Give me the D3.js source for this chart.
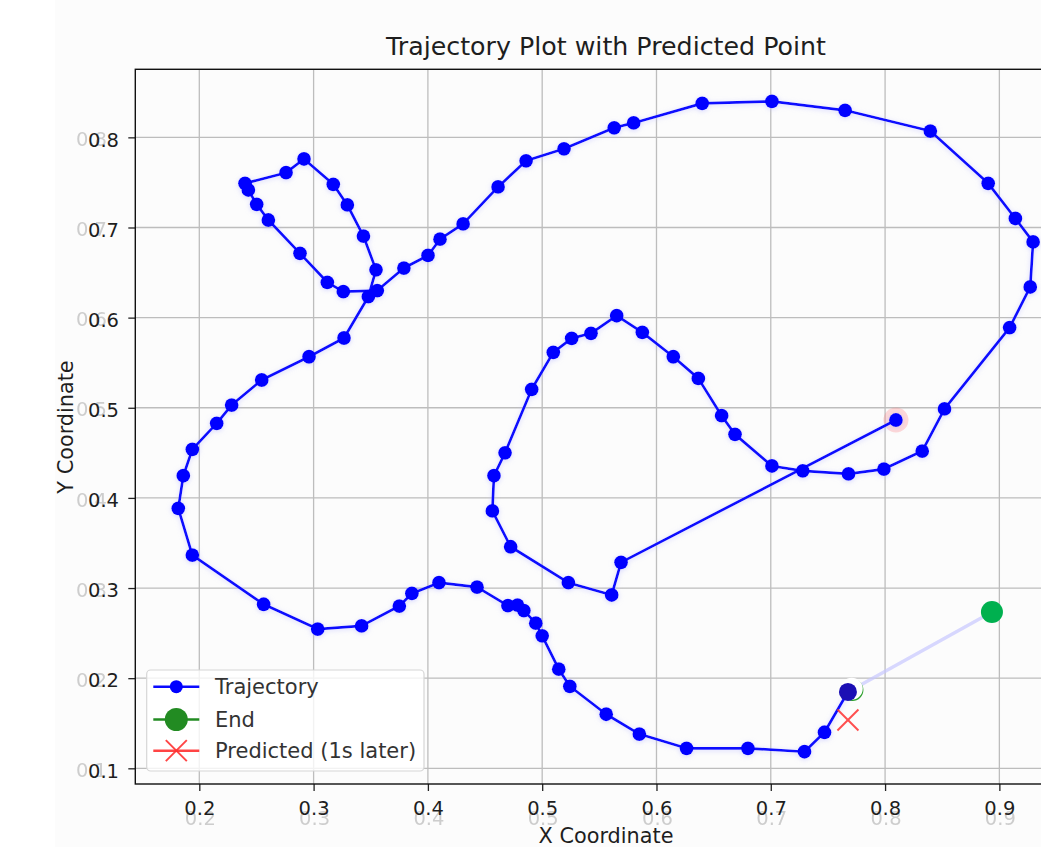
<!DOCTYPE html>
<html>
<head>
<meta charset="utf-8">
<script src="https://cdn.jsdelivr.net/npm/d3@7"></script>
<style>
  html, body { margin: 0; padding: 0; background: #ffffff; }
  svg { display: block; font-family: "DejaVu Sans", sans-serif; }
</style>
</head>
<body>
<svg id="chart" width="1041" height="847"></svg>
<script>
// Trajectory samples, in drawing order (x, y)
const trajX = [0.8095, 0.569, 0.5608, 0.5229, 0.4724, 0.4564, 0.4578, 0.4675, 0.4908, 0.5097,
  0.5258, 0.5427, 0.5652, 0.5876, 0.6147, 0.6366, 0.657, 0.6687, 0.701, 0.728,
  0.768, 0.799, 0.8325, 0.852, 0.909, 0.927, 0.9295, 0.914, 0.8902, 0.8396,
  0.765, 0.701, 0.640, 0.580, 0.563, 0.5191, 0.4859, 0.4614, 0.4308, 0.4106,
  0.4001, 0.379, 0.3557, 0.326, 0.312, 0.2881, 0.2604, 0.2502, 0.2429, 0.240,
  0.2759, 0.2916, 0.3172, 0.3295, 0.3436, 0.3546, 0.3479, 0.3266, 0.296, 0.2546,
  0.2283, 0.2152, 0.1939, 0.186, 0.1816, 0.1939, 0.2563, 0.3036, 0.342, 0.375,
  0.386, 0.4097, 0.443, 0.470, 0.4784, 0.484, 0.4944, 0.500, 0.5145, 0.5242,
  0.556, 0.585, 0.6263, 0.680, 0.7295, 0.747, 0.7675];
const trajY = [0.4864, 0.3285, 0.2923, 0.3059, 0.3458, 0.3855, 0.4246, 0.450, 0.5205, 0.5615,
  0.577, 0.5826, 0.6021, 0.5837, 0.5566, 0.5326, 0.4912, 0.4705, 0.4354, 0.430,
  0.4266, 0.432, 0.452, 0.4987, 0.589, 0.634, 0.684, 0.710, 0.749, 0.807,
  0.830, 0.840, 0.8377, 0.816, 0.8106, 0.7873, 0.774, 0.745, 0.704, 0.687,
  0.669, 0.655, 0.630, 0.6288, 0.6392, 0.6713, 0.7083, 0.7257, 0.7416, 0.749,
  0.7608, 0.776, 0.7479, 0.725, 0.6905, 0.653, 0.6232, 0.5774, 0.5566, 0.5308,
  0.503, 0.4827, 0.4539, 0.4246, 0.3884, 0.3366, 0.282, 0.2545, 0.258, 0.280,
  0.294, 0.306, 0.301, 0.2804, 0.281, 0.275, 0.261, 0.247, 0.210, 0.191,
  0.160, 0.138, 0.1222, 0.1222, 0.1184, 0.140, 0.1847];

const predicted = [0.7675, 0.1536];   // position 1 s after the last sample
const endDot = [0.8935, 0.2734];      // green end marker

const xTicks = [0.2, 0.3, 0.4, 0.5, 0.6, 0.7, 0.8, 0.9];
const yTicks = [0.1, 0.2, 0.3, 0.4, 0.5, 0.6, 0.7, 0.8];

const titleText = "Trajectory Plot with Predicted Point";
const xLabel = "X Coordinate";
const yLabel = "Y Coordinate";
const legendLabels = ["Trajectory", "End", "Predicted (1s later)"];

const pts = trajX.map((v, i) => [v, trajY[i]]);
const startPt = pts[0];
const lastPt = pts[pts.length - 1];

const svg = d3.select("#chart");

// soft halo used on the trajectory marks
const defs = svg.append("defs");
const glow = defs.append("filter").attr("id", "glow")
  .attr("x", "-20%").attr("y", "-20%").attr("width", "140%").attr("height", "140%");
glow.append("feGaussianBlur").attr("in", "SourceGraphic").attr("stdDeviation", 2.6).attr("result", "b");
glow.append("feColorMatrix").attr("in", "b").attr("type", "matrix")
  .attr("values", "0 0 0 0 0.5  0 0 0 0 0.5  0 0 0 0 1  0 0 0 0.6 0").attr("result", "c");
glow.append("feOffset").attr("in", "c").attr("dx", -0.5).attr("dy", 1.2).attr("result", "o");
const merge = glow.append("feMerge");
merge.append("feMergeNode").attr("in", "o");
merge.append("feMergeNode").attr("in", "SourceGraphic");

const soft = defs.append("filter").attr("id", "soft");
soft.append("feGaussianBlur").attr("stdDeviation", 0.4);

// figure background
svg.append("rect").attr("x", 55).attr("y", 0).attr("width", 1041 - 55).attr("height", 847)
  .attr("fill", "#fcfcfc");

const plotL = 135.3, plotR = 1050.8, plotT = 69.3, plotB = 784;
const x = d3.scaleLinear().domain([0.144, 0.945]).range([plotL, plotR]);
const y = d3.scaleLinear().domain([0.0826, 0.8755]).range([plotB, plotT]);

// grid
const grid = svg.append("g").attr("stroke", "#bdbdbd").attr("stroke-width", 1.3);
xTicks.forEach(t => grid.append("line").attr("x1", x(t)).attr("x2", x(t)).attr("y1", plotT).attr("y2", plotB));
yTicks.forEach(t => grid.append("line").attr("y1", y(t)).attr("y2", y(t)).attr("x1", plotL).attr("x2", plotR));

// faint duplicate tick labels
const ghost = svg.append("g").attr("fill", "#cdcdcd").attr("font-size", 19.5).attr("filter", "url(#soft)");
xTicks.forEach(t => ghost.append("text").attr("x", x(t) + 1).attr("y", 825)
  .attr("text-anchor", "middle").text(d3.format(".1f")(t)));
yTicks.forEach(t => ghost.append("text").attr("x", 107).attr("y", y(t) + 8.7)
  .attr("text-anchor", "end").text(d3.format(".1f")(t)));

// axes
const xAxis = d3.axisBottom(x).tickValues(xTicks).tickFormat(d3.format(".1f")).tickSize(7).tickPadding(6);
const yAxis = d3.axisLeft(y).tickValues(yTicks).tickFormat(d3.format(".1f")).tickSize(7).tickPadding(6);
const gx = svg.append("g").attr("transform", `translate(0,${plotB})`).call(xAxis);
const gy = svg.append("g").attr("transform", `translate(${plotL},0)`).call(yAxis);
[gx, gy].forEach(g => {
  g.select(".domain").remove();
  g.selectAll(".tick line").attr("stroke", "#222").attr("stroke-width", 1.3);
  g.selectAll(".tick text").attr("fill", "#1e1e1e").attr("font-size", 19.5)
    .attr("font-family", "DejaVu Sans, sans-serif");
});
gx.selectAll(".tick text").attr("dy", null).attr("y", 31);
gy.selectAll(".tick text").attr("dy", null).attr("y", 8.7).attr("x", -16.3);

// spines
svg.append("rect").attr("x", plotL).attr("y", plotT).attr("width", plotR - plotL).attr("height", plotB - plotT)
  .attr("fill", "none").attr("stroke", "#111").attr("stroke-width", 1.4);

// start highlight
svg.append("circle").attr("cx", x(startPt[0])).attr("cy", y(startPt[1])).attr("r", 12.5)
  .attr("fill", "#ff8080").attr("opacity", 0.3);

// faint link from the last sample to the end marker
svg.append("line").attr("x1", x(lastPt[0])).attr("y1", y(lastPt[1]))
  .attr("x2", x(endDot[0])).attr("y2", y(endDot[1]))
  .attr("stroke", "#c8c8ff").attr("stroke-width", 3.4).attr("opacity", 0.7);

// trajectory
const traj = svg.append("g").attr("filter", "url(#glow)");
traj.append("path").datum(pts)
  .attr("d", d3.line().x(d => x(d[0])).y(d => y(d[1])))
  .attr("fill", "none").attr("stroke", "#0a0aff").attr("stroke-width", 2.7).attr("stroke-linejoin", "round");
traj.selectAll("circle").data(pts.slice(0, -1)).join("circle")
  .attr("cx", d => x(d[0])).attr("cy", d => y(d[1])).attr("r", 6.9).attr("fill", "#0000ff");

// end marker in green with a white cover, then the last sample on top
svg.append("circle").attr("cx", x(lastPt[0]) + 4.5).attr("cy", y(lastPt[1]) - 2).attr("r", 11)
  .attr("fill", "#2ca02c");
svg.append("circle").attr("cx", x(lastPt[0]) + 3.8).attr("cy", y(lastPt[1]) - 3.3).attr("r", 11)
  .attr("fill", "#ffffff");
svg.append("circle").attr("cx", x(lastPt[0])).attr("cy", y(lastPt[1])).attr("r", 9)
  .attr("fill", "#1c0fb4");

// green end dot
svg.append("circle").attr("cx", x(endDot[0])).attr("cy", y(endDot[1])).attr("r", 11)
  .attr("fill", "#00b050").attr("filter", "url(#soft)");

// predicted point
const px = x(predicted[0]), py = y(predicted[1]), a = 10.5;
const pred = svg.append("g").attr("stroke", "#ff3030").attr("stroke-width", 1.9).attr("opacity", 0.85);
pred.append("line").attr("x1", px - a).attr("y1", py - a).attr("x2", px + a).attr("y2", py + a);
pred.append("line").attr("x1", px - a).attr("y1", py + a).attr("x2", px + a).attr("y2", py - a);

// title and axis labels
svg.append("text").attr("x", 606).attr("y", 55).attr("text-anchor", "middle")
  .attr("font-size", 25.3).attr("fill", "#1e1e1e").text(titleText);
svg.append("text").attr("x", 606).attr("y", 843).attr("text-anchor", "middle")
  .attr("font-size", 20.8).attr("fill", "#1e1e1e").text(xLabel);
svg.append("text").attr("transform", "translate(73,427) rotate(-90)").attr("text-anchor", "middle")
  .attr("font-size", 20.8).attr("fill", "#1e1e1e").text(yLabel);

// legend
const lg = svg.append("g");
lg.append("rect").attr("x", 146.7).attr("y", 670).attr("width", 277.3).attr("height", 101).attr("rx", 4)
  .attr("fill", "#ffffff").attr("fill-opacity", 0.8).attr("stroke", "#d6d6d6").attr("stroke-width", 1.2);
const rows = [686.7, 719.5, 750.7];
const lx1 = 153.3, lx2 = 199.3, lmx = 176.3;
lg.append("line").attr("x1", lx1).attr("x2", lx2).attr("y1", rows[0]).attr("y2", rows[0])
  .attr("stroke", "#0a0aff").attr("stroke-width", 2.5);
lg.append("circle").attr("cx", lmx).attr("cy", rows[0]).attr("r", 6.5).attr("fill", "#0000ff");
lg.append("line").attr("x1", lx1).attr("x2", lx2).attr("y1", rows[1]).attr("y2", rows[1])
  .attr("stroke", "#228b22").attr("stroke-width", 2.5);
lg.append("circle").attr("cx", lmx).attr("cy", rows[1]).attr("r", 11.5).attr("fill", "#228b22");
lg.append("line").attr("x1", lx1).attr("x2", lx2).attr("y1", rows[2]).attr("y2", rows[2])
  .attr("stroke", "#ff3030").attr("stroke-width", 2.5).attr("opacity", 0.9);
const lp = lg.append("g").attr("stroke", "#ff3030").attr("stroke-width", 1.9).attr("opacity", 0.9);
lp.append("line").attr("x1", lmx - a).attr("y1", rows[2] - a).attr("x2", lmx + a).attr("y2", rows[2] + a);
lp.append("line").attr("x1", lmx - a).attr("y1", rows[2] + a).attr("x2", lmx + a).attr("y2", rows[2] - a);
legendLabels.forEach((t, i) => lg.append("text").attr("x", 215).attr("y", rows[i] + 7.5)
  .attr("font-size", 21).attr("fill", "#333").text(t));
</script>
</body>
</html>
